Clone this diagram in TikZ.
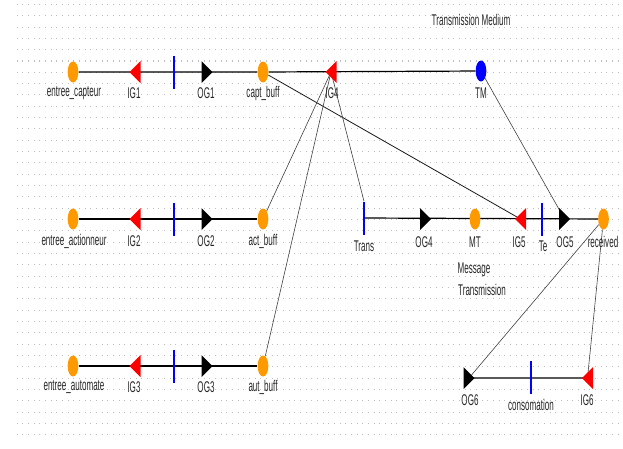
\documentclass[tikz,border=0pt]{standalone}
\usepackage{fontspec}
\setmainfont{Liberation Sans}[FakeStretch=0.52]
\usetikzlibrary{shapes.geometric}
\definecolor{portorange}{RGB}{255,153,0}
\definecolor{gridgray}{RGB}{190,190,190}
\pgfdeclarelayer{bg}
\pgfsetlayers{bg,main}

\begin{document}
\begin{tikzpicture}[x=1pt,y=-1pt,
  place/.style={ellipse, fill=portorange, minimum width=10.7pt, minimum height=21pt, inner sep=0pt},
  medium/.style={place, fill=blue},
  trans/.style={rectangle, fill=blue, minimum width=2pt, minimum height=33pt, inner sep=0pt},
  lbl/.style={font=\fontsize{15.5}{15.5}\selectfont, inner sep=0pt, text=black!85},
  wire/.style={line width=1.2pt, black},
  link/.style={line width=0.6pt, black!75},
  ingate/.pic={\fill[red] (-5.5,0) -- (5.5,-11) -- (5.5,11) -- cycle;},
  outgate/.pic={\fill[black] (5.5,0) -- (-5.5,-11) -- (-5.5,11) -- cycle;},
]
\useasboundingbox (0,0) rectangle (623,448);

% ---- places ----
\node[place] (ec) at (73,72) {};
\node[place] (cb) at (263,72) {};
\node[medium] (TM) at (481,71) {};
\node[place] (ea) at (73,219) {};
\node[place] (ab) at (263,219) {};
\node[place] (MT) at (475,219) {};
\node[place] (rc) at (603.5,219) {};
\node[place] (eu) at (73,366) {};
\node[place] (ub) at (263,366) {};

% ---- transitions ----
\node[trans] (T1) at (174,72) {};
\node[trans] (T2) at (174,219) {};
\node[trans] (T3) at (174,366) {};
\node[trans] (Tr) at (364,218) {};
\node[trans] (Te) at (542,219) {};
\node[trans] (Tc) at (531,377) {};

% ---- gates ----
\coordinate (IG1) at (135,72);
\coordinate (OG1) at (207,72);
\coordinate (IG2) at (135,219);
\coordinate (OG2) at (207,219);
\coordinate (IG3) at (135,366);
\coordinate (OG3) at (207,366);
\coordinate (IG4) at (331,72);
\coordinate (OG4) at (425.5,219);
\coordinate (IG5) at (520.5,219);
\coordinate (OG5) at (564.5,219);
\coordinate (OG6) at (469,378);
\coordinate (IG6) at (587.5,378);

\foreach \g in {IG1,IG2,IG3,IG4,IG5,IG6} \pic at (\g) {ingate};
\foreach \g in {OG1,OG2,OG3,OG4,OG5,OG6} \pic at (\g) {outgate};

% ---- labels ----
\node[lbl] at (74,93) {entree\_capteur};
\node[lbl] at (134,93) {IG1};
\node[lbl] at (206,93) {OG1};
\node[lbl] at (263,93) {capt\_buff};
\node[lbl] at (332,93) {IG4};
\node[lbl] at (481,93) {TM};
\node[lbl] at (471,20) {Transmission Medium};

\node[lbl] at (74,241) {entree\_actionneur};
\node[lbl] at (134,241) {IG2};
\node[lbl] at (206,241) {OG2};
\node[lbl] at (263,241) {act\_buff};
\node[lbl] at (364,246) {Trans};
\node[lbl] at (424,242) {OG4};
\node[lbl] at (475,242) {MT};
\node[lbl] at (519,242) {IG5};
\node[lbl] at (543,246) {Te};
\node[lbl] at (565,242) {OG5};
\node[lbl] at (603,242) {received};
\node[lbl] at (474,270) {Message};
\node[lbl] at (482,290) {Transmission};

\node[lbl] at (74,387) {entree\_automate};
\node[lbl] at (134,387) {IG3};
\node[lbl] at (206,387) {OG3};
\node[lbl] at (263,387) {aut\_buff};

\node[lbl] at (470,400) {OG6};
\node[lbl] at (531,405) {consomation};
\node[lbl] at (587,400) {IG6};

% ---- grid and connectors behind the shapes ----
\begin{pgfonlayer}{bg}
  \foreach \k in {0,...,38}
    \draw[gridgray, line width=1pt, dash pattern=on 1pt off 4.667pt]
      (16.8,{4.33+11.333*\k}) -- (623,{4.33+11.333*\k});

  \draw[wire] (ec) -- (cb) -- (TM);
  \draw[wire] (ea) -- (ab);
  \draw[wire] (eu) -- (ub);
  \draw[wire] (Tr) -- (rc);
  \draw[line width=1.2pt, black!65] (OG6) -- (IG6);

  \draw[line width=0.8pt, black!90] (cb) -- (IG5);
  \draw[link] (IG4) -- (ab);
  \draw[link] (IG4) -- (ub);
  \draw[link] (IG4) -- (Tr.north);
  \draw[link] (TM) -- (OG5);
  \draw[link] (rc) -- (OG6);
  \draw[link] (rc) -- (IG6);
\end{pgfonlayer}
\end{tikzpicture}
\end{document}
